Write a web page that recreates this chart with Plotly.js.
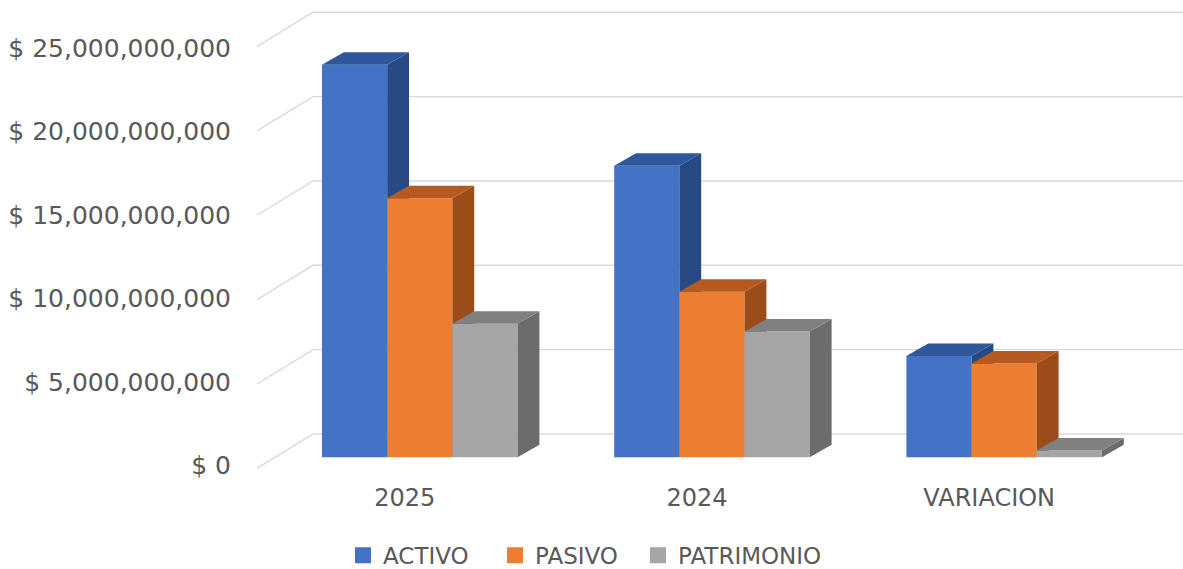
<!DOCTYPE html>
<html><head><meta charset="utf-8">
<script src="https://cdn.plot.ly/plotly-3.0.1.min.js"></script>
<style>html,body{margin:0;padding:0;background:#fff;}#chart{width:1183px;height:569px;}</style>
</head><body><div id="chart"></div>
<script>
// ---- data ----
const categories = ['2025', '2024', 'VARIACION'];
const seriesNames = ['ACTIVO', 'PASIVO', 'PATRIMONIO'];
const activo = [23.27e9, 17.28e9, 6.00e9];
const pasivo = [15.36e9, 9.82e9, 5.56e9];
const patrimonio = [7.91e9, 7.45e9, 0.40e9];
const yTickVals = [0, 5e9, 10e9, 15e9, 20e9, 25e9];
const yTickText = ['$ 0', '$ 5,000,000,000', '$ 10,000,000,000', '$ 15,000,000,000', '$ 20,000,000,000', '$ 25,000,000,000'];

// ---- style ----
const frontColors = ['#4472C4', '#ED7D31', '#A5A5A5'];
const topColors = ['#30569B', '#B65A1F', '#808080'];
const sideColors = ['#284A84', '#9B4C19', '#6C6C6C'];
const textColor = '#595959';
const gridColor = '#D9D9D9';
const FONT = 'DejaVu Sans';
const legendLeftPx = [343, 495, 638];

// ---- geometry (pixels -> axis units) ----
const W = 1183, H = 569, mL = 257, plotBottom = 481;
const pxPerCat = 292.2, pxPerUnit = 16.87 / 1e9;
const x0 = -(419.8 - mL) / pxPerCat, x1 = x0 + (W - mL) / pxPerCat;
const barBasePx = 457.3;
const yRange = [-(plotBottom - barBasePx) / pxPerUnit, barBasePx / pxPerUnit];
const labelZeroPx = 465.5, labelPxPerUnit = 16.7 / 1e9;
const labelRange = [-(plotBottom - labelZeroPx) / labelPxPerUnit, labelZeroPx / labelPxPerUnit];
const barW = 65.2 / pxPerCat;
const depthX = 21.8 / pxPerCat, depthY = 12.5 / pxPerUnit;
const floorFrontY = 11 / pxPerUnit, wallBackY = 23.3 / pxPerUnit;
const wallBackX = 56 / pxPerCat;
const labelShift = 15 / pxPerCat;

const seriesValues = [activo, pasivo, patrimonio];
const catIdx = categories.map((c, i) => i);
const traces = [];

// gridlines on back wall + left floor diagonal
const gx = [], gy = [];
yTickVals.forEach(t => {
  gx.push(x0, x0 + wallBackX, x1, null);
  gy.push(t - floorFrontY, t + wallBackY, t + wallBackY, null);
});
traces.push({type: 'scatter', mode: 'lines', x: gx, y: gy, xaxis: 'x', yaxis: 'y2',
  line: {color: gridColor, width: 1.4}, hoverinfo: 'skip', showlegend: false, connectgaps: false});

seriesValues.forEach((vals, s) => {
  const ya = 'y' + (s + 3);
  const off = (s - 1) * barW - barW / 2;
  traces.push({type: 'bar', x: catIdx, y: vals, xaxis: 'x', yaxis: ya, width: barW, offset: off,
    marker: {color: frontColors[s], line: {width: 0}}, hoverinfo: 'skip', showlegend: false});
  const tx = [], ty = [], sx = [], sy = [];
  vals.forEach((v, i) => {
    const xl = i + off, xr = xl + barW;
    tx.push(xl, xr, xr + depthX, xl + depthX, xl, null);
    ty.push(v, v, v + depthY, v + depthY, v, null);
    sx.push(xr, xr + depthX, xr + depthX, xr, xr, null);
    sy.push(0, depthY, v + depthY, v, 0, null);
  });
  traces.push({type: 'scatter', mode: 'lines', x: sx, y: sy, xaxis: 'x', yaxis: ya, fill: 'toself',
    fillcolor: sideColors[s], line: {width: 0, color: sideColors[s]}, hoverinfo: 'skip', showlegend: false});
  traces.push({type: 'scatter', mode: 'lines', x: tx, y: ty, xaxis: 'x', yaxis: ya, fill: 'toself',
    fillcolor: topColors[s], line: {width: 0, color: topColors[s]}, hoverinfo: 'skip', showlegend: false});
  // legend entry (each series in its own legend box so spacing can follow the reference)
  traces.push({type: 'scatter', mode: 'markers', x: [null], y: [null], xaxis: 'x', yaxis: 'y',
    name: seriesNames[s], legend: s === 0 ? 'legend' : 'legend' + (s + 1),
    marker: {symbol: 'square', size: 16, color: frontColors[s]}, hoverinfo: 'skip'});
});

const hiddenY = {range: yRange, overlaying: 'y', visible: false, showgrid: false, zeroline: false, fixedrange: true};
function legendBox(i) {
  return {orientation: 'h', xref: 'container', yref: 'container', x: legendLeftPx[i] / W, xanchor: 'left',
    y: 0.024, yanchor: 'middle', bgcolor: 'rgba(0,0,0,0)',
    font: {family: FONT, size: 23, color: textColor}, itemsizing: 'trace'};
}
const layout = {
  width: W, height: H,
  margin: {l: mL, r: 0, t: 0, b: H - plotBottom, pad: 0},
  paper_bgcolor: '#ffffff', plot_bgcolor: 'rgba(0,0,0,0)',
  font: {family: FONT, color: textColor, size: 23},
  showlegend: true,
  legend: legendBox(0), legend2: legendBox(1), legend3: legendBox(2),
  xaxis: {range: [x0, x1], tickmode: 'array', tickvals: catIdx.map(i => i - labelShift), ticktext: categories,
    showgrid: false, zeroline: false, showline: false, ticks: '',
    tickfont: {family: FONT, size: 24, color: textColor}, fixedrange: true},
  yaxis: {range: labelRange, tickmode: 'array', tickvals: yTickVals, ticktext: yTickText, showgrid: false,
    zeroline: false, showline: false, ticks: 'outside', ticklen: 20, tickcolor: 'rgba(0,0,0,0)',
    tickfont: {family: FONT, size: 25, color: textColor}, fixedrange: true},
  yaxis2: Object.assign({}, hiddenY),
  yaxis3: Object.assign({}, hiddenY),
  yaxis4: Object.assign({}, hiddenY),
  yaxis5: Object.assign({}, hiddenY),
  hovermode: false
};
Plotly.newPlot('chart', traces, layout, {staticPlot: true, displayModeBar: false});
</script>
</body></html>
